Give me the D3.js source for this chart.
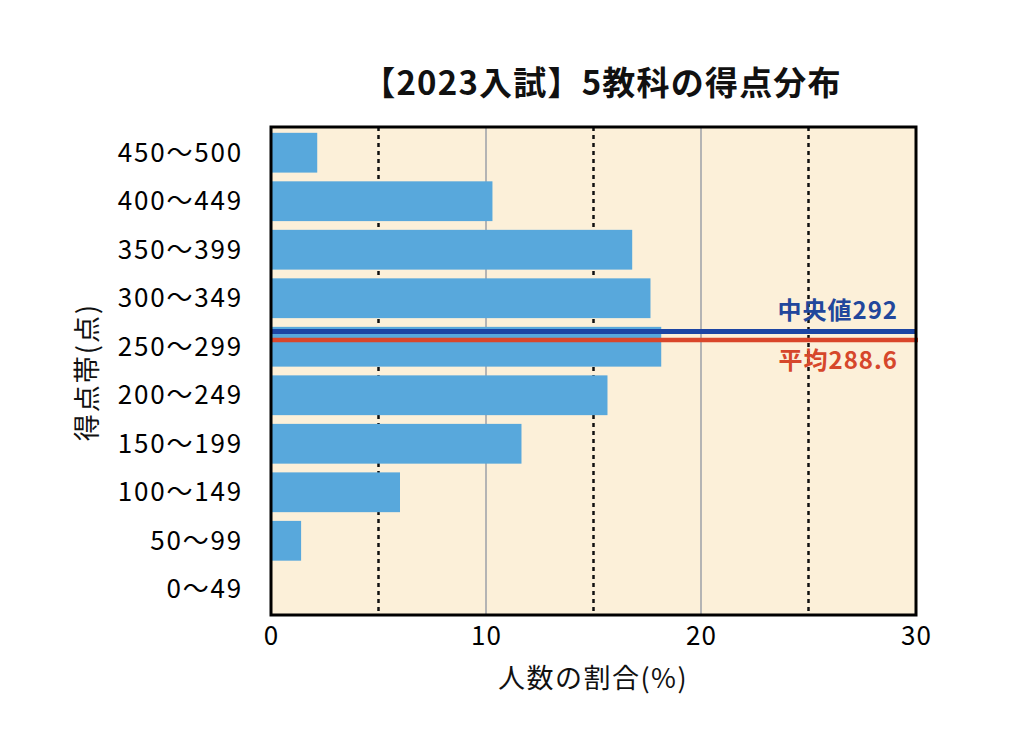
<!DOCTYPE html>
<html>
<head>
<meta charset="utf-8">
<script src="https://cdn.jsdelivr.net/npm/d3@7"></script>
<style>
  body { margin: 0; background: #fff; }
  text { font-family: "Noto Sans CJK JP", "Noto Sans", sans-serif; }
</style>
</head>
<body>
<div id="chart"></div>
<script>
// data
const bands = ["450〜500", "400〜449", "350〜399", "300〜349", "250〜299",
               "200〜249", "150〜199", "100〜149", "50〜99", "0〜49"];
const shares = [2.15, 10.3, 16.8, 17.65, 18.15, 15.65, 11.65, 6.0, 1.4, 0];
const xTicks = [0, 10, 20, 30];
const dashedTicks = [5, 15, 25];
const solidTicks = [10, 20];
const median = 292;
const mean = 288.6;

const svg = d3.select("#chart").append("svg")
    .attr("width", 1024)
    .attr("height", 735);

// plot box
const plotL = 271, plotR = 916, plotT = 127, plotB = 615;

const x = d3.scaleLinear().domain([0, 30]).range([plotL, plotR]);
const y = d3.scaleBand().domain(bands).range([plotT, plotB])
    .paddingInner(0.18).paddingOuter(0.12);
const yScore = d3.scaleLinear().domain([0, 500]).range([plotB, plotT]);

// background
svg.append("rect")
    .attr("x", plotL).attr("y", plotT)
    .attr("width", plotR - plotL).attr("height", plotB - plotT)
    .attr("fill", "#fcf0d9");

// grid lines
svg.selectAll(".solid")
    .data(solidTicks)
    .enter().append("line")
    .attr("x1", d => x(d)).attr("x2", d => x(d))
    .attr("y1", plotT).attr("y2", plotB)
    .attr("stroke", "#b4b4b4")
    .attr("stroke-width", 2);

svg.selectAll(".dashed")
    .data(dashedTicks)
    .enter().append("line")
    .attr("x1", d => x(d)).attr("x2", d => x(d))
    .attr("y1", plotT).attr("y2", plotB)
    .attr("stroke", "#111")
    .attr("stroke-width", 2.5)
    .attr("stroke-dasharray", "4 4");

// bars
svg.selectAll(".bar")
    .data(bands)
    .enter().append("rect")
    .attr("x", plotL)
    .attr("y", d => y(d))
    .attr("width", (d, i) => x(shares[i]) - plotL)
    .attr("height", y.bandwidth())
    .attr("fill", "#58a8dc");

// median / mean lines (red pushed just under blue so both stay visible)
const yMed = yScore(median) + 1.5;
const yMean = Math.max(yScore(mean), yMed + 8.5);

svg.append("line")
    .attr("x1", plotL).attr("x2", plotR)
    .attr("y1", yMed).attr("y2", yMed)
    .attr("stroke", "#1c45a3")
    .attr("stroke-width", 5);

svg.append("line")
    .attr("x1", plotL).attr("x2", plotR + 2)
    .attr("y1", yMean).attr("y2", yMean)
    .attr("stroke", "#d9462b")
    .attr("stroke-width", 4.5);

svg.append("text")
    .attr("x", 898).attr("y", yMed - 13)
    .attr("text-anchor", "end")
    .attr("font-size", 24)
    .attr("font-weight", "bold")
    .attr("letter-spacing", 1)
    .attr("fill", "#22479c")
    .text("中央値" + median);

svg.append("text")
    .attr("x", 898).attr("y", yMean + 29)
    .attr("text-anchor", "end")
    .attr("font-size", 24)
    .attr("font-weight", "bold")
    .attr("letter-spacing", 1)
    .attr("fill", "#d6472b")
    .text("平均" + mean);

// frame
svg.append("rect")
    .attr("x", plotL).attr("y", plotT)
    .attr("width", plotR - plotL).attr("height", plotB - plotT)
    .attr("fill", "none")
    .attr("stroke", "#000")
    .attr("stroke-width", 3);

// axes
const xAxis = svg.append("g")
    .attr("transform", "translate(0," + plotB + ")")
    .call(d3.axisBottom(x).tickValues(xTicks).tickSize(0).tickPadding(12));
xAxis.select(".domain").remove();
xAxis.selectAll("text")
    .attr("font-size", 26)
    .attr("letter-spacing", 1)
    .attr("fill", "#000")
    .style("font-family", "'Noto Sans CJK JP', sans-serif");

const yAxis = svg.append("g")
    .attr("transform", "translate(" + plotL + ",0)")
    .call(d3.axisLeft(y).tickSize(0).tickPadding(28));
yAxis.select(".domain").remove();
yAxis.selectAll("text")
    .attr("font-size", 26)
    .attr("letter-spacing", 1.8)
    .attr("dy", "0.34em")
    .attr("fill", "#000")
    .style("font-family", "'Noto Sans CJK JP', sans-serif");

// titles
svg.append("text")
    .attr("x", 602).attr("y", 95)
    .attr("text-anchor", "middle")
    .attr("font-size", 33)
    .attr("font-weight", "bold")
    .attr("letter-spacing", 1.2)
    .attr("fill", "#111")
    .text("【2023入試】5教科の得点分布");

svg.append("text")
    .attr("x", 593).attr("y", 688)
    .attr("text-anchor", "middle")
    .attr("font-size", 27)
    .attr("letter-spacing", 1.5)
    .attr("fill", "#111")
    .text("人数の割合(%)");

svg.append("text")
    .attr("transform", "translate(97,372) rotate(-90)")
    .attr("text-anchor", "middle")
    .attr("font-size", 27)
    .attr("letter-spacing", 2)
    .attr("fill", "#111")
    .text("得点帯(点)");
</script>
</body>
</html>
